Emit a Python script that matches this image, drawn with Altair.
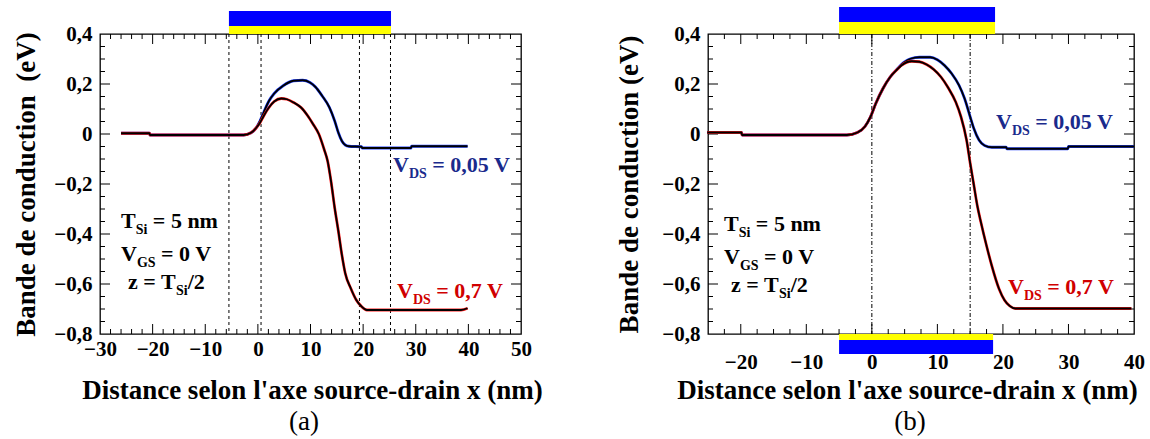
import altair as alt
import pandas as pd

FONT = "Liberation Serif"
H = 300            # plot height (both panels)
W_A, W_B = 421, 426
GAP = 187

LINE_BLUE = "#1f3fff"
LINE_RED = "#ff1a1a"
TEXT_BLUE = "#1a2a8c"
TEXT_RED = "#d00000"
GATE_BLUE = "#0000ff"
GATE_YELLOW = "#ffff00"

# ---------------- panel (a) : conduction band profiles ----------------
a_x_low = [-26.0, -20.6, -20.5, -2.7, -1.3, -0.3, 0.4, 1.1, 2.1, 3.1, 4.8, 6.8, 8.5, 9.9,
           10.9, 12.2, 13.6, 14.6, 15.3, 15.96, 16.6, 17.3, 19.7, 19.8, 29.1, 29.2, 39.85]
a_y_low = [0.003, 0.003, -0.004, -0.004, 0.005, 0.025, 0.052, 0.086, 0.132, 0.162, 0.193, 0.213,
           0.215, 0.206, 0.189, 0.153, 0.106, 0.052, 0.005, -0.028, -0.044, -0.049, -0.051,
           -0.056, -0.056, -0.049, -0.049]
a_x_high = [-26.0, -20.6, -20.5, -2.7, -1.3, -0.3, 0.4, 1.1, 2.1, 3.1, 4.45, 5.5, 6.8, 8.2, 9.5,
            10.5, 11.6, 12.6, 13.25, 13.9, 14.6, 15.3, 15.96, 16.6, 17.65, 18.7, 19.7, 20.7,
            38.6, 39.85]
a_y_high = [0.003, 0.003, -0.004, -0.004, 0.005, 0.025, 0.045, 0.072, 0.106, 0.13, 0.142, 0.139,
            0.126, 0.106, 0.072, 0.039, -0.001, -0.062, -0.108, -0.189, -0.296, -0.389, -0.483,
            -0.557, -0.617, -0.664, -0.690, -0.704, -0.704, -0.697]
a_vlines = [-5.5, 0.6, 19.3, 25.2]
a_gate_top = [-5.5, 25.3]

# ---------------- panel (b) : conduction band profiles ----------------
b_x_low = [-25.1, -19.9, -19.8, -3.8, -2.2, -1.05, -0.2, 0.6, 1.7, 2.8, 3.9, 5.0, 5.9, 7.25,
           8.9, 10.0, 11.1, 12.2, 13.3, 14.15, 15.0, 15.55, 16.35, 17.2, 18.3, 20.5, 20.6,
           29.9, 30.0, 40.0]
b_y_low = [0.006, 0.006, -0.004, -0.004, 0.006, 0.03, 0.069, 0.122, 0.182, 0.228, 0.261, 0.288,
           0.301, 0.307, 0.307, 0.297, 0.274, 0.241, 0.195, 0.142, 0.069, 0.023, -0.024, -0.046,
           -0.053, -0.053, -0.059, -0.059, -0.050, -0.050]
b_x_high = [-25.1, -19.9, -19.8, -3.8, -2.2, -1.05, -0.2, 0.6, 1.7, 2.8, 3.9, 4.5, 6.1, 7.25,
            8.35, 9.45, 10.55, 11.65, 12.8, 13.6, 14.45, 15.0, 15.55, 16.1, 16.65, 17.5, 18.3,
            19.4, 20.25, 21.05, 21.9, 39.6]
b_y_high = [0.006, 0.006, -0.004, -0.004, 0.006, 0.03, 0.069, 0.122, 0.182, 0.228, 0.259, 0.274,
            0.291, 0.289, 0.278, 0.258, 0.228, 0.185, 0.128, 0.069, -0.024, -0.116, -0.202,
            -0.288, -0.354, -0.447, -0.527, -0.619, -0.665, -0.688, -0.698, -0.698]
b_vlines = [0.0, 15.0]
b_gate_top = [-5.0, 18.8]
b_gate_bottom = [-5.0, 18.5]

# ---------------- axes ----------------
y_labels = [-0.8, -0.6, -0.4, -0.2, 0, 0.2, 0.4]
y_minor = [-0.75, -0.7, -0.65, -0.55, -0.5, -0.45, -0.35, -0.3, -0.25, -0.15, -0.1, -0.05,
           0.05, 0.1, 0.15, 0.25, 0.3, 0.35]
a_x_labels = [-30, -20, -10, 0, 10, 20, 30, 40, 50]
a_x_minor = [v for v in range(-28, 50, 2) if v % 10 != 0]
b_x_labels = [-20, -10, 0, 10, 20, 30, 40]
b_x_minor = [-22.5, -17.5, -15, -12.5, -7.5, -5, -2.5, 2.5, 5, 7.5, 12.5, 15, 17.5, 22.5, 25,
             27.5, 32.5, 35, 37.5]

X_TITLE = "Distance selon l'axe source-drain x (nm)"
Y_LABEL_EXPR = "datum.value == 0 ? '0' : replace(format(datum.value, '.1f'), '.', ',')"

# Times-Bold advance widths (per 1000 em) used to lay out subscripted labels
BOLD_W = {' ': 250, '=': 570, ',': 250, '/': 278, 'V': 722, 'T': 667, 'D': 722, 'S': 556,
          'G': 778, 'i': 278, 'n': 556, 'm': 833, 'z': 444}
for d in "0123456789":
    BOLD_W[d] = 500

MAIN_SIZE, SUB_SIZE, SUB_DY = 22, 14, 6


def label_marks(x0, y0, parts, color):
    marks = []
    cx = x0
    for text, is_sub in parts:
        fs = SUB_SIZE if is_sub else MAIN_SIZE
        lead = len(text) - len(text.lstrip(' '))
        cx += lead * BOLD_W[' '] / 1000 * fs
        body = text.lstrip(' ')
        marks.append(
            alt.Chart(pd.DataFrame({"t": [body]}))
            .mark_text(align="left", baseline="alphabetic", font=FONT, fontWeight="bold",
                       fontSize=fs, color=color)
            .encode(x=alt.value(cx), y=alt.value(y0 + (SUB_DY if is_sub else 0)), text="t:N")
        )
        cx += sum(BOLD_W[c] for c in body) / 1000 * fs
    return marks


def panel(width, xdom, xlabels, xminor, curves, vlines, dash, gates, notes, letter,
          title_x, lab_pad, y_title, y_title_x, letter_x):
    xs = alt.Scale(domain=xdom, nice=False, zero=False)
    ys = alt.Scale(domain=[-0.8, 0.4], nice=False, zero=False)
    xaxis = alt.Axis(values=xlabels, format="d", title=X_TITLE, titleX=title_x, titleY=64,
                     titleBaseline="alphabetic", titleAlign="center", labelPadding=lab_pad,
                     labelFlush=False, labelOverlap=False)
    yaxis = alt.Axis(values=y_labels, labelExpr=Y_LABEL_EXPR, title=y_title, titleX=y_title_x,
                     titleY=H / 2, titleAngle=270, titleBaseline="alphabetic",
                     titleAlign="center", labelPadding=8, labelFlush=False, labelOverlap=False)

    def X(f):
        return alt.X(f, type="quantitative", scale=xs, axis=xaxis)

    def Y(f):
        return alt.Y(f, type="quantitative", scale=ys, axis=yaxis)

    layers = []

    # gate electrodes drawn outside the frame
    for x0, x1, ya, yb, col in gates:
        layers.append(
            alt.Chart(pd.DataFrame({"x0": [x0], "x1": [x1]}))
            .mark_rect(color=col)
            .encode(x=X("x0"), x2="x1", y=alt.value(ya), y2=alt.value(yb))
        )

    # inward ticks on all four sides
    major_x = [v for v in xlabels if xdom[0] < v < xdom[1]]
    major_y = [v for v in y_labels if -0.8 < v < 0.4]
    for vals, ln in ((xminor, 5), (major_x, 10)):
        df = pd.DataFrame({"v": vals})
        layers.append(alt.Chart(df).mark_rule(color="black", strokeWidth=1)
                      .encode(x=X("v"), y=alt.value(0), y2=alt.value(ln)))
        layers.append(alt.Chart(df).mark_rule(color="black", strokeWidth=1)
                      .encode(x=X("v"), y=alt.value(H), y2=alt.value(H - ln)))
    for vals, ln in ((y_minor, 5), (major_y, 10)):
        df = pd.DataFrame({"v": vals})
        layers.append(alt.Chart(df).mark_rule(color="black", strokeWidth=1)
                      .encode(y=Y("v"), x=alt.value(0), x2=alt.value(ln)))
        layers.append(alt.Chart(df).mark_rule(color="black", strokeWidth=1)
                      .encode(y=Y("v"), x=alt.value(width), x2=alt.value(width - ln)))

    # channel boundaries
    layers.append(
        alt.Chart(pd.DataFrame({"v": vlines}))
        .mark_rule(color="black", strokeWidth=1, strokeDash=dash)
        .encode(x=X("v"))
    )

    # curves: coloured trace under a black trace
    for xv, yv, col in curves:
        df = pd.DataFrame({"x": xv, "y": yv})
        layers.append(alt.Chart(df).mark_line(color=col, strokeWidth=2.8, interpolate="monotone")
                      .encode(x=X("x"), y=Y("y")))
        layers.append(alt.Chart(df).mark_line(color="black", strokeWidth=1.8,
                                              interpolate="monotone")
                      .encode(x=X("x"), y=Y("y")))

    for x0, y0, parts, color in notes:
        layers.extend(label_marks(x0, y0, parts, color))

    layers.append(
        alt.Chart(pd.DataFrame({"t": [letter]}))
        .mark_text(font=FONT, fontSize=27, fontWeight="normal", color="black",
                   align="center", baseline="middle")
        .encode(x=alt.value(letter_x), y=alt.value(388), text="t:N")
    )

    return alt.layer(*layers).properties(width=width, height=H)


def common_notes(dx, dy):
    return [
        (21 + dx, 194 + dy, [("T", False), ("Si", True), (" = 5 nm", False)], "black"),
        (21 + dx, 227 + dy, [("V", False), ("GS", True), (" = 0 V", False)], "black"),
        (28 + dx, 255 + dy, [("z = T", False), ("Si", True), ("/2", False)], "black"),
    ]


panel_a = panel(
    W_A, [-30, 50], a_x_labels, a_x_minor,
    [(a_x_low, a_y_low, LINE_BLUE), (a_x_high, a_y_high, LINE_RED)],
    a_vlines, [3, 3],
    [(a_gate_top[0], a_gate_top[1], -23, -8, GATE_BLUE),
     (a_gate_top[0], a_gate_top[1], -8, 0, GATE_YELLOW)],
    [(293, 138, [("V", False), ("DS", True), (" = 0,05 V", False)], TEXT_BLUE),
     (297, 264, [("V", False), ("DS", True), (" = 0,7 V", False)], TEXT_RED)]
    + common_notes(0, 0),
    "(a)", 212, 4, "Bande de conduction\u00a0 (eV)", -66, 204,
)

panel_b = panel(
    W_B, [-25, 40], b_x_labels, b_x_minor,
    [(b_x_low, b_y_low, LINE_BLUE), (b_x_high, b_y_high, LINE_RED)],
    b_vlines, [4, 2, 1, 2],
    [(b_gate_top[0], b_gate_top[1], -27, -12, GATE_BLUE),
     (b_gate_top[0], b_gate_top[1], -12, 0, GATE_YELLOW),
     (b_gate_bottom[0], b_gate_bottom[1], 300, 306, GATE_YELLOW),
     (b_gate_bottom[0], b_gate_bottom[1], 306, 320, GATE_BLUE)],
    [(288, 95, [("V", False), ("DS", True), (" = 0,05 V", False)], TEXT_BLUE),
     (300, 260, [("V", False), ("DS", True), (" = 0,7 V", False)], TEXT_RED)]
    + common_notes(-5, 3),
    "(b)", 199, 17.5, "Bande de conduction (eV)", -71, 202,
)

chart = (
    alt.hconcat(panel_a, panel_b, spacing=GAP, bounds="flush")
    .properties(padding={"left": 11, "top": 6, "right": 4, "bottom": 4}, background="white")
    .configure_view(stroke="black", strokeWidth=1.3)
    .configure_axis(
        labelFont=FONT, labelFontSize=21, labelFontWeight="bold", labelColor="black",
        titleFont=FONT, titleFontSize=27, titleFontWeight="bold", titleColor="black",
        domain=False, ticks=False, grid=False,
    )
)

chart.save("out.html", embed_options={"renderer": "svg", "actions": False})
